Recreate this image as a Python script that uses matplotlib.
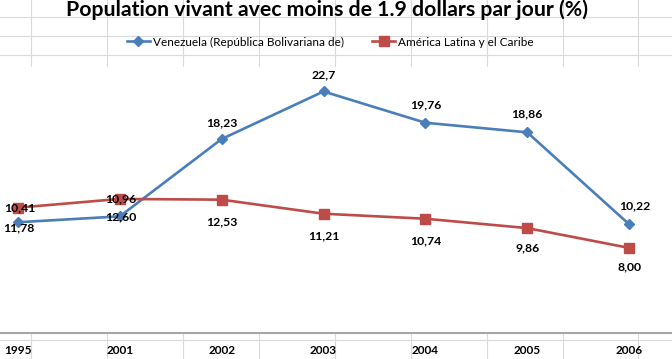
import matplotlib
matplotlib.use("Agg")
import matplotlib.pyplot as plt
from matplotlib.lines import Line2D

plt.rcParams['font.family'] = ['Lato', 'DejaVu Sans']

# datos
years = ['1995', '2001', '2002', '2003', '2004', '2005', '2006']
ven_values = [10.41, 10.96, 18.23, 22.70, 19.76, 18.86, 10.22]
alc_values = [11.78, 12.60, 12.53, 11.21, 10.74, 9.86, 8.00]
ven_labels = ['11,78', '12,60', '18,23', '22,7', '19,76', '18,86', '10,22']
alc_labels = ['10,41', '10,96', '12,53', '11,21', '10,74', '9,86', '8,00']
ven_name = 'Venezuela (República Bolivariana de)'
alc_name = 'América Latina y el Caribe'
title = 'Population vivant avec moins de 1.9 dollars par jour (%)'

# colores
blue = '#4A7EBB'
red = '#BE4B48'
grid_col = '#DADADA'

W, H = 672, 359
fig = plt.figure(figsize=(W / 100, H / 100), dpi=100)

# fondo de hoja de calculo (lineas de celdas)
for x in [31, 107, 183, 259, 335, 411, 487, 563, 638]:
    fig.add_artist(Line2D([x / W, x / W], [0, 1], color=grid_col, lw=0.8, zorder=0))
for y in [17, 36, 55, 340]:
    fig.add_artist(Line2D([0, 1], [1 - y / H, 1 - y / H], color=grid_col, lw=0.8, zorder=0))

# area del grafico (categorias de 102 px, recortado a los lados)
ax = fig.add_axes([-33 / W, 1 - 333 / H, 713 / W, 266 / H], zorder=1)
ax.set_facecolor('white')
ax.set_xlim(-0.5, 6.5)
ax.set_ylim(0, 25)

x = list(range(len(years)))
ax.plot(x, ven_values, color=blue, lw=1.9, marker='D', markersize=5.5,
        label=ven_name, clip_on=False, zorder=3)
ax.plot(x, alc_values, color=red, lw=1.9, marker='s', markersize=6.5,
        label=alc_name, clip_on=False, zorder=3)

# etiquetas de datos
ven_off = [(1, -4), (1, 0), (0, 12), (0, 12), (0, 13), (0, 13), (4, 13)]
alc_off = [(1, 0), (1, 0), (0, -16), (0, -16), (0, -16), (0, -14), (0, -14)]
for i in x:
    ax.annotate(ven_labels[i], (i, ven_values[i]), xytext=ven_off[i], textcoords='offset points',
                ha='center', va='center', fontsize=8.8, fontweight='bold', zorder=4)
    ax.annotate(alc_labels[i], (i, alc_values[i]), xytext=alc_off[i], textcoords='offset points',
                ha='center', va='center', fontsize=8.8, fontweight='bold', zorder=4)

ax.set_xticks(x)
ax.set_xticklabels(years, fontsize=8.5, fontweight='bold')
ax.tick_params(axis='x', length=0, pad=9)
ax.set_yticks([])
for s in ['top', 'left', 'right']:
    ax.spines[s].set_visible(False)
ax.spines['bottom'].set_color('#A6A6A6')
ax.spines['bottom'].set_linewidth(1.5)

fig.text(327 / W, 1 - 16 / H, title, ha='center', va='baseline',
         fontsize=15.3, fontweight='bold')

fig.legend(loc='center', bbox_to_anchor=(330 / W, 1 - 42 / H), ncol=2, frameon=False,
           fontsize=8.5, handlelength=2.0, handletextpad=0.2, columnspacing=2.4)

fig.savefig('out.png', dpi=100)
